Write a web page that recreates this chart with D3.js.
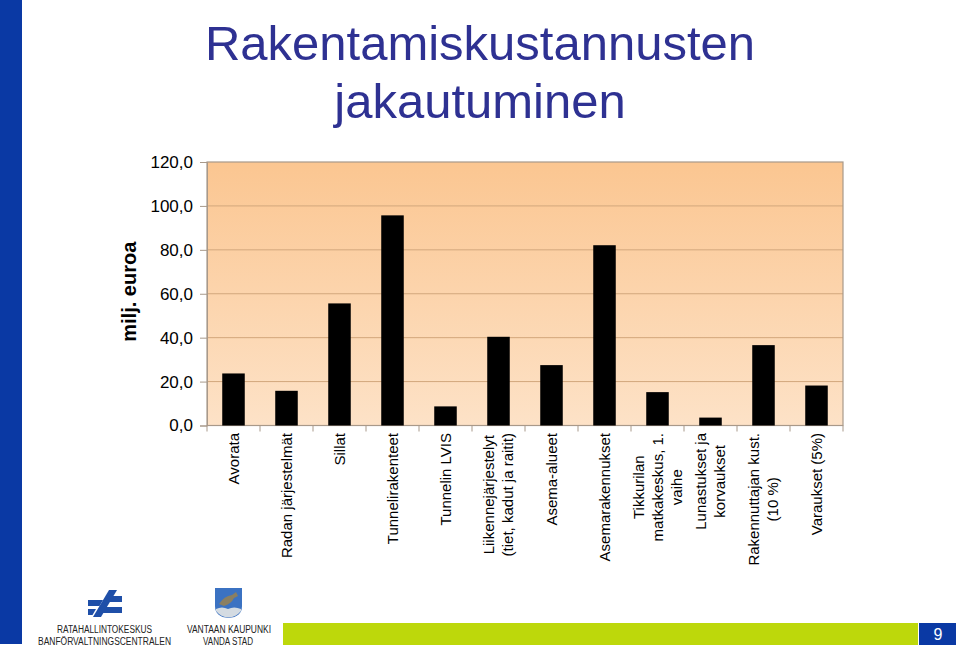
<!DOCTYPE html>
<html>
<head>
<meta charset="utf-8">
<script src="https://cdn.jsdelivr.net/npm/d3@7"></script>
<style>
  html, body { margin: 0; padding: 0; background: #fff; }
  svg { display: block; }
</style>
</head>
<body>
<svg id="chart" width="960" height="650"></svg>
<script>
// ---- data ----
const categories = [
  "Avorata", "Radan järjestelmät", "Sillat", "Tunnelirakenteet", "Tunnelin LVIS",
  "Liikennejärjestelyt (tiet, kadut ja raitit)", "Asema-alueet", "Asemarakennukset",
  "Tikkurilan matkakeskus, 1. vaihe", "Lunastukset ja korvaukset",
  "Rakennuttajan kust. (10 %)", "Varaukset (5%)"
];
const labelLines = [
  ["Avorata"], ["Radan järjestelmät"], ["Sillat"], ["Tunnelirakenteet"], ["Tunnelin LVIS"],
  ["Liikennejärjestelyt", "(tiet, kadut ja raitit)"], ["Asema-alueet"], ["Asemarakennukset"],
  ["Tikkurilan", "matkakeskus, 1.", "vaihe"], ["Lunastukset ja", "korvaukset"],
  ["Rakennuttajan kust.", "(10 %)"], ["Varaukset (5%)"]
];
const values = [23.7, 15.8, 55.6, 95.7, 8.7, 40.4, 27.5, 82.1, 15.2, 3.6, 36.6, 18.2];
const yTicks = [0, 20, 40, 60, 80, 100, 120];
const titleLines = ["Rakentamiskustannusten", "jakautuminen"];
const yAxisTitle = "milj. euroa";
const pageNumber = "9";

// ---- layout ----
const svg = d3.select("#chart");
const plot = { left: 207, right: 843, top: 162, bottom: 425.5 };
const font = "'Liberation Sans', Arial, sans-serif";

const x = d3.scaleBand().domain(categories).range([plot.left, plot.right])
  .paddingInner(0.575).paddingOuter(0.2875);
const y = d3.scaleLinear().domain([0, 120]).range([plot.bottom, plot.top]);
const fmt = v => d3.format(".1f")(v).replace(".", ",");

// decorations
svg.append("rect").attr("x", 0).attr("y", 0).attr("width", 22).attr("height", 644).attr("fill", "#0a39a4");

// title
svg.append("g").selectAll("text").data(titleLines).join("text")
  .attr("x", 480).attr("y", (d, i) => 60 + i * 58)
  .attr("text-anchor", "middle")
  .attr("font-family", font).attr("font-size", 49).attr("fill", "#2e3192")
  .text(d => d);

// gradient
const defs = svg.append("defs");
const grad = defs.append("linearGradient").attr("id", "bg").attr("x1", 0).attr("y1", 0).attr("x2", 0).attr("y2", 1);
grad.append("stop").attr("offset", "0%").attr("stop-color", "#fbc691");
grad.append("stop").attr("offset", "100%").attr("stop-color", "#fde2c7");

svg.append("rect")
  .attr("x", plot.left).attr("y", plot.top)
  .attr("width", plot.right - plot.left).attr("height", plot.bottom - plot.top)
  .attr("fill", "url(#bg)");

// gridlines
svg.append("g").selectAll("line").data(yTicks.filter(t => t > 0 && t < 120)).join("line")
  .attr("x1", plot.left).attr("x2", plot.right)
  .attr("y1", d => y(d)).attr("y2", d => y(d))
  .attr("stroke", "#d2a77c").attr("stroke-width", 1);

// border
svg.append("rect")
  .attr("x", plot.left).attr("y", plot.top)
  .attr("width", plot.right - plot.left).attr("height", plot.bottom - plot.top)
  .attr("fill", "none").attr("stroke", "#a8998a").attr("stroke-width", 1.2);

// bars
svg.append("g").selectAll("rect").data(values).join("rect")
  .attr("x", (d, i) => x(categories[i]))
  .attr("width", x.bandwidth())
  .attr("y", d => y(d))
  .attr("height", d => y(0) - y(d))
  .attr("fill", "#000");

// y axis
const yAxis = d3.axisLeft(y).tickValues(yTicks).tickFormat(fmt).tickSize(7).tickPadding(7);
const yg = svg.append("g").attr("transform", `translate(${plot.left},0)`).call(yAxis);
yg.select(".domain").attr("stroke", "#a8998a");
yg.selectAll(".tick line").attr("stroke", "#a8998a");
yg.selectAll(".tick text").attr("font-family", font).attr("font-size", 17).attr("fill", "#000");

// x ticks at category boundaries
const step = x.step();
const boundaries = d3.range(categories.length + 1).map(i => plot.left + i * step);
svg.append("g").selectAll("line").data(boundaries).join("line")
  .attr("x1", d => d).attr("x2", d => d)
  .attr("y1", plot.bottom).attr("y2", plot.bottom + 6)
  .attr("stroke", "#a8998a");

// x labels
const lineH = 19;
const lg = svg.append("g").selectAll("g").data(categories).join("g")
  .attr("transform", d => `translate(${x(d) + x.bandwidth() / 2},433) rotate(-90)`);
lg.each(function(d, i) {
  const g = d3.select(this);
  const lines = labelLines[i];
  const n = lines.length;
  const t = g.selectAll("text").data(lines).join("text")
    .attr("font-family", font).attr("font-size", 15).attr("fill", "#000")
    .attr("text-anchor", "middle")
    .attr("y", (l, j) => (j - (n - 1) / 2) * lineH)
    .attr("dy", "0.36em")
    .text(l => l);
  let maxLen = 0;
  t.each(function() { maxLen = Math.max(maxLen, this.getComputedTextLength()); });
  t.attr("x", -maxLen / 2);
});

// y axis title
svg.append("text")
  .attr("transform", "translate(135.5,291.7) rotate(-90)")
  .attr("text-anchor", "middle")
  .attr("font-family", font).attr("font-size", 20).attr("font-weight", "bold").attr("fill", "#000")
  .text(yAxisTitle);

// footer bars
svg.append("rect").attr("x", 283).attr("y", 623).attr("width", 635).attr("height", 22).attr("fill", "#bdd80b");
svg.append("rect").attr("x", 919).attr("y", 623).attr("width", 37).attr("height", 22).attr("fill", "#0a39a4");
svg.append("text").attr("x", 938).attr("y", 640).attr("text-anchor", "middle")
  .attr("font-family", font).attr("font-size", 16).attr("fill", "#fff").text(pageNumber);

// RHK logo
const logo = svg.append("g").attr("fill", "#1f4fa8");
logo.append("path").attr("d", "M109,590 L117,590 L101,617 L93,617 Z");
logo.append("path").attr("d", "M108.5,596 L122,596 L122,602 L105,602 Z");
logo.append("path").attr("d", "M88,600 L103,600 L99.5,606 L88,606 Z");
logo.append("path").attr("d", "M101,607 L122,607 L122,613 L97.5,613 Z");
logo.append("path").attr("d", "M88,609 L96,609 L92.5,615 L88,615 Z");
const logoFont = "'Liberation Sans Narrow', 'Liberation Sans', Arial, sans-serif";
const logoFs = 10;
svg.append("text").attr("x", 57).attr("y", 632.5).attr("font-family", logoFont).attr("font-size", logoFs)
  .attr("fill", "#222").attr("textLength", 95).attr("lengthAdjust", "spacingAndGlyphs").text("RATAHALLINTOKESKUS");
svg.append("text").attr("x", 38).attr("y", 645).attr("font-family", logoFont).attr("font-size", logoFs)
  .attr("fill", "#222").attr("textLength", 133).attr("lengthAdjust", "spacingAndGlyphs").text("BANFÖRVALTNINGSCENTRALEN");

// Vantaa shield
const sh = svg.append("g");
sh.append("path").attr("d", "M215,588 L242,588 L242,606 Q242,617 228.5,618 Q215,617 215,606 Z").attr("fill", "#3b72c2");
sh.append("path").attr("d", "M216,609 Q222,606 228,609 Q234,606 241,609 L241,611 Q236,617 228.5,617.5 Q221,617 216,611 Z").attr("fill", "#d4dbe2");
sh.append("path").attr("d", "M219,604 Q224,596 232,595 L236,592 L238,596 L234,598 Q231,604 224,606 Z").attr("fill", "#8a7f62");
svg.append("text").attr("x", 187).attr("y", 632.5).attr("font-family", logoFont).attr("font-size", logoFs)
  .attr("fill", "#222").attr("textLength", 84).attr("lengthAdjust", "spacingAndGlyphs").text("VANTAAN KAUPUNKI");
svg.append("text").attr("x", 203).attr("y", 645).attr("font-family", logoFont).attr("font-size", logoFs)
  .attr("fill", "#222").attr("textLength", 50).attr("lengthAdjust", "spacingAndGlyphs").text("VANDA STAD");
</script>
</body>
</html>
